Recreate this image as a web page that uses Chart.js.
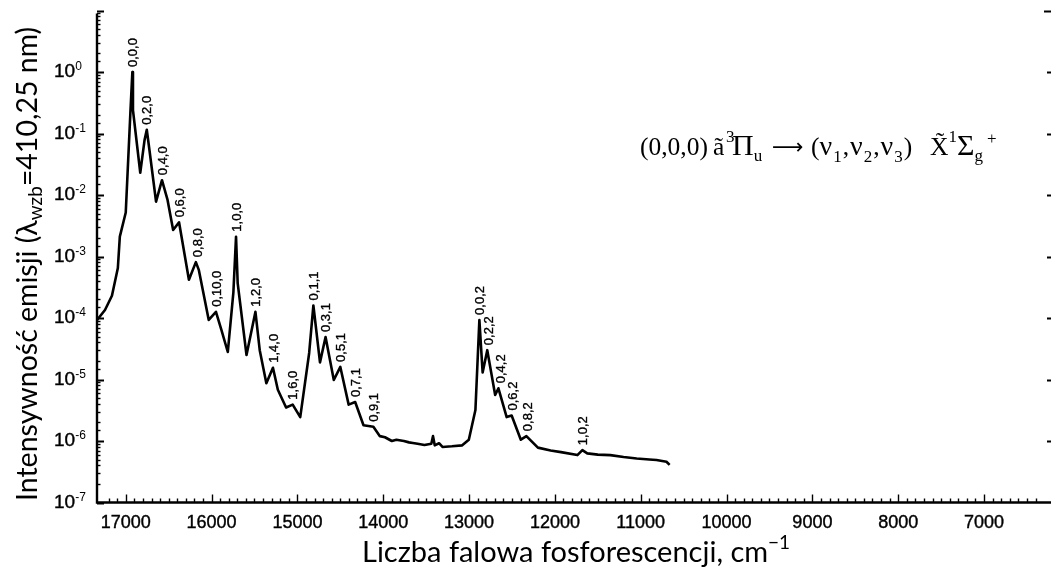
<!DOCTYPE html>
<html>
<head>
<meta charset="utf-8">
<script src="https://cdn.jsdelivr.net/npm/chart.js@4.4.0/dist/chart.umd.min.js"></script>
<style>
  html, body { margin: 0; padding: 0; background: #fff; }
  #wrap { width: 1061px; height: 568px; }
</style>
</head>
<body>
<div id="wrap"><canvas id="spectrum" width="1061" height="568"></canvas></div>
<script>
// wavenumber (cm-1) and emission intensity
const wavenumbers = [
  17334, 17242, 17161, 17092, 17069, 17000, 16946, 16923, 16916, 16831,
  16781, 16755, 16724, 16647, 16578, 16513, 16448, 16379, 16264, 16183,
  16148, 16033, 15949, 15884, 15811, 15746, 15715, 15696, 15593, 15489,
  15439, 15362, 15285, 15228, 15132, 15055, 14967, 14863, 14814, 14737,
  14672, 14576, 14500, 14403, 14327, 14230, 14115, 14039, 13980, 13900,
  13847, 13760, 13700, 13655, 13600, 13520, 13440, 13420, 13400, 13350,
  13310, 13200, 13080, 13003, 12926, 12880, 12842, 12788, 12696, 12658,
  12562, 12504, 12397, 12332, 12198, 12050, 11929, 11738, 11680, 11623,
  11500, 11354, 11200, 11047, 10900, 10817, 10700, 10663
];
const intensities = [
  9.3e-5, 1.35e-4, 2.3e-4, 6.5e-4, 2.1e-3, 5.2e-3, 0.22, 1.0, 0.24, 0.023,
  0.078, 0.115, 0.054, 7.8e-3, 0.0174, 8.3e-3, 2.7e-3, 3.6e-3, 4.2e-4, 8.1e-4,
  6.0e-4, 9.3e-5, 1.26e-4, 6.3e-5, 2.8e-5, 2.6e-4, 2.1e-3, 3.7e-4, 2.5e-5, 1.26e-4,
  3.0e-5, 8.7e-6, 1.55e-5, 6.8e-6, 3.5e-6, 3.9e-6, 2.45e-6, 2.7e-5, 1.6e-4, 1.9e-5,
  4.9e-5, 9.8e-6, 1.6e-5, 3.9e-6, 4.3e-6, 1.8e-6, 1.7e-6, 1.2e-6, 1.15e-6, 1.0e-6,
  1.05e-6, 1.0e-6, 9.5e-7, 9.3e-7, 9.0e-7, 8.6e-7, 9.0e-7, 1.2e-6, 8.5e-7, 9.2e-7,
  8.0e-7, 8.2e-7, 8.5e-7, 1.05e-6, 3.2e-6, 9.3e-5, 1.3e-5, 3.0e-5, 5.6e-6, 7.2e-6,
  2.45e-6, 2.6e-6, 1.05e-6, 1.2e-6, 7.8e-7, 7.0e-7, 6.6e-7, 5.9e-7, 7.1e-7, 6.3e-7,
  6.0e-7, 5.9e-7, 5.5e-7, 5.2e-7, 5.0e-7, 4.9e-7, 4.6e-7, 4.1e-7
];

// vibrational band labels (v1,v2,v3) and the peak they sit on
const peakLabels = [
  '0,0,0', '0,2,0', '0,4,0', '0,6,0', '0,8,0', '0,10,0', '1,0,0', '1,2,0', '1,4,0', '1,6,0',
  '0,1,1', '0,3,1', '0,5,1', '0,7,1', '0,9,1',
  '0,0,2', '0,2,2', '0,4,2', '0,6,2', '0,8,2', '1,0,2'
];
const peakWavenumbers = [
  16923, 16755, 16578, 16379, 16160, 15949, 15715, 15489, 15285, 15055,
  14814, 14672, 14500, 14327, 14115,
  12880, 12770, 12640, 12500, 12320, 11680
];
const peakIntensities = [
  1.0, 0.115, 0.0174, 3.6e-3, 8.1e-4, 1.26e-4, 2.1e-3, 1.26e-4, 1.55e-5, 3.9e-6,
  1.6e-4, 4.9e-5, 1.6e-5, 4.3e-6, 1.7e-6,
  9.3e-5, 3.0e-5, 7.2e-6, 2.6e-6, 1.2e-6, 7.1e-7
];

const xTickLabels = [17000, 16000, 15000, 14000, 13000, 12000, 11000, 10000, 9000, 8000, 7000];
const yTickExponents = [0, -1, -2, -3, -4, -5, -6, -7];

const sans = '"Liberation Sans", Arial, sans-serif';
const serif = '"Liberation Serif", "Times New Roman", serif';

// draws text runs one after another; a run may pin its own x
function drawRich(ctx, x, y, parts) {
  parts.forEach(p => {
    if (p.x !== undefined) x = p.x;
    ctx.font = p.font;
    ctx.fillText(p.t, x, y + (p.dy || 0));
    x += ctx.measureText(p.t).width + (p.gap || 0);
  });
  return x;
}

const decorPlugin = {
  id: 'decor',
  afterDraw(chart) {
    const ctx = chart.ctx;
    const xs = chart.scales.x;
    const ys = chart.scales.y;
    const area = chart.chartArea;
    ctx.save();
    ctx.strokeStyle = '#000';
    ctx.fillStyle = '#000';

    // axis lines
    ctx.lineWidth = 2.4;
    ctx.beginPath();
    ctx.moveTo(area.left, area.top + 3);
    ctx.lineTo(area.left, area.bottom);
    ctx.lineTo(area.right, area.bottom);
    ctx.stroke();

    // inward ticks on the bottom axis
    ctx.lineWidth = 1.4;
    xs.ticks.forEach(t => {
      if (t.value % 100 !== 0) return;
      const px = Math.round(xs.getPixelForValue(t.value)) + 0.5;
      const len = t.value % 1000 === 0 ? 8 : 4;
      ctx.beginPath();
      ctx.moveTo(px, area.bottom);
      ctx.lineTo(px, area.bottom - len);
      ctx.stroke();
    });

    // inward ticks on the left axis, dashes on the right edge
    ys.ticks.forEach(t => {
      const e = Math.log10(t.value);
      const major = Math.abs(e - Math.round(e)) < 1e-6;
      const py = Math.round(ys.getPixelForValue(t.value)) + 0.5;
      ctx.lineWidth = major ? 2 : 1.4;
      ctx.beginPath();
      ctx.moveTo(area.left, py);
      ctx.lineTo(area.left + (major ? 7 : 3.5), py);
      ctx.stroke();
      if (major && Math.round(e) > -7) {
        ctx.beginPath();
        ctx.moveTo(area.right - (Math.round(e) === 1 ? 7 : 4), py);
        ctx.lineTo(area.right, py);
        ctx.stroke();
      }
    });

    // y tick labels 10^n
    ctx.textAlign = 'left';
    ctx.textBaseline = 'middle';
    ctx.lineWidth = 0.4;
    ys.ticks.forEach(t => {
      const e = Math.round(Math.log10(t.value));
      if (Math.abs(Math.log10(t.value) - e) > 1e-6 || !yTickExponents.includes(e)) return;
      const py = ys.getPixelForValue(t.value);
      ctx.font = '19px ' + sans;
      ctx.fillText('10', 54, py);
      ctx.strokeText('10', 54, py);
      const w = ctx.measureText('10').width;
      ctx.font = '12px ' + sans;
      ctx.fillText(e === 0 ? '0' : '-' + (-e), 54 + w, py - 5);
    });

    // band labels
    ctx.font = '13px ' + sans;
    ctx.lineWidth = 0.35;
    peakLabels.forEach((lab, i) => {
      const px = xs.getPixelForValue(peakWavenumbers[i]) + 1;
      const py = ys.getPixelForValue(peakIntensities[i]) - 5;
      ctx.save();
      ctx.translate(px, py);
      ctx.rotate(-Math.PI / 2);
      ctx.fillText(lab, 0, 0);
      ctx.strokeText(lab, 0, 0);
      ctx.restore();
    });

    // transition formula
    ctx.textBaseline = 'alphabetic';
    const f = '25.5px ' + serif;
    const fn = '28px ' + serif;
    const fg = '30px ' + serif;
    const fs = '17px ' + serif;
    drawRich(ctx, 640, 155, [
      { t: '(0,0,0)', font: f },
      { t: 'a\u0303', font: f, x: 713 },
      { t: '3', font: fs, dy: -13, x: 726 },
      { t: '\u03A0', font: fg, x: 732 },
      { t: 'u', font: fs, dy: 6 },
      { t: '\u27F6', font: '22px "DejaVu Sans", sans-serif', dy: -1, x: 772 },
      { t: '(', font: f, x: 811 },
      { t: '\u03BD', font: fn, gap: 1 },
      { t: '1', font: fs, dy: 7, gap: 1 },
      { t: ',', font: f, gap: 1 },
      { t: '\u03BD', font: fn, gap: 1 },
      { t: '2', font: fs, dy: 7, gap: 1 },
      { t: ',', font: f, gap: 1 },
      { t: '\u03BD', font: fn, gap: 1 },
      { t: '3', font: fs, dy: 7, gap: 1 },
      { t: ')', font: f },
      { t: 'X\u0303', font: f, x: 930 },
      { t: '1', font: fs, dy: -13 },
      { t: '\u03A3', font: fg },
      { t: 'g', font: fs, dy: 6, gap: 4 },
      { t: '+', font: fs, dy: -11 }
    ]);

    // axis titles
    const tf = '29px Lato, "Open Sans", sans-serif';
    const tfs = '19px Lato, "Open Sans", sans-serif';
    drawRich(ctx, 362, 562, [
      { t: 'Liczba falowa fosforescencji, cm', font: tf },
      { t: '\u22121', font: tfs, dy: -13 }
    ]);
    ctx.save();
    ctx.translate(37, 501);
    ctx.rotate(-Math.PI / 2);
    drawRich(ctx, 0, 0, [
      { t: 'Intensywno\u015B\u0107 emisji (\u03BB', font: '28.5px Lato, "Open Sans", sans-serif' },
      { t: 'wzb', font: tfs, dy: 5 },
      { t: '=410,25 nm)', font: '28.5px Lato, "Open Sans", sans-serif' }
    ]);
    ctx.restore();

    ctx.restore();
  }
};

const points = wavenumbers.map((w, i) => ({ x: w, y: intensities[i] }));

new Chart(document.getElementById('spectrum').getContext('2d'), {
  type: 'line',
  data: {
    datasets: [{
      data: points,
      borderColor: '#000',
      borderWidth: 2.6,
      pointRadius: 0,
      tension: 0,
      fill: false,
      borderJoinStyle: 'round'
    }]
  },
  options: {
    responsive: false,
    animation: false,
    devicePixelRatio: 1,
    layout: { padding: { top: 10.5, right: 0, left: 0, bottom: 0 } },
    plugins: { legend: { display: false }, tooltip: { enabled: false } },
    scales: {
      x: {
        type: 'linear',
        reverse: true,
        min: 6220,
        max: 17335,
        grid: { display: false, drawTicks: false },
        border: { display: false },
        ticks: {
          stepSize: 100,
          autoSkip: false,
          maxRotation: 0,
          padding: 10,
          color: '#000',
          textStrokeColor: '#000',
          textStrokeWidth: 0.4,
          font: { family: '"Liberation Sans", Arial, sans-serif', size: 18 },
          callback: v => xTickLabels.includes(v) ? String(v) : ''
        },
        afterFit: s => { s.height = 65.5; }
      },
      y: {
        type: 'logarithmic',
        min: 1e-7,
        max: 10,
        grid: { display: false, drawTicks: false },
        border: { display: false },
        ticks: { display: false },
        afterFit: s => { s.width = 97; }
      }
    }
  },
  plugins: [decorPlugin]
});
</script>
</body>
</html>
